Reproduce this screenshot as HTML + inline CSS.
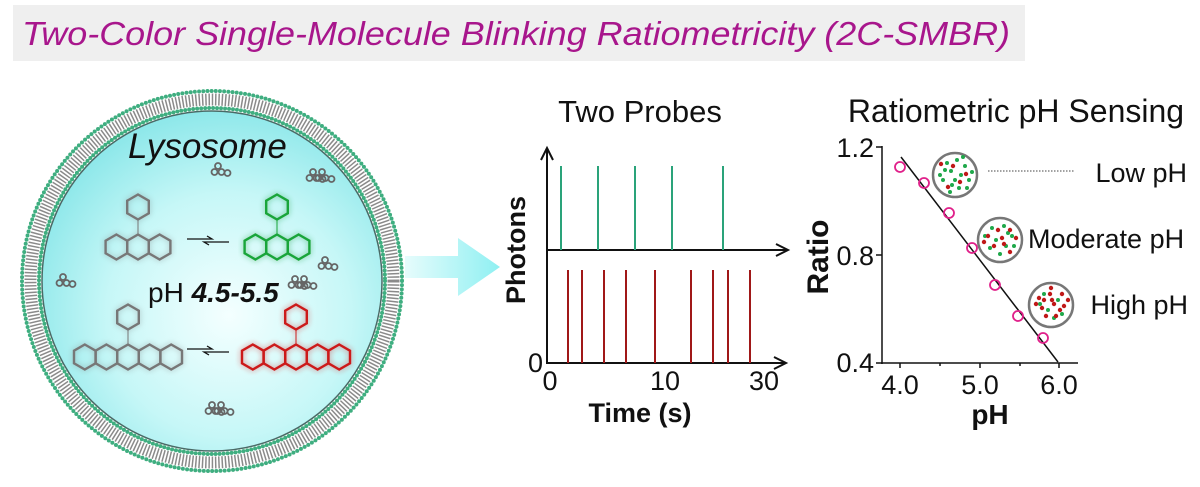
<!DOCTYPE html>
<html><head><meta charset="utf-8"><style>
html,body{margin:0;padding:0;background:#fff;}
svg{display:block;font-family:"Liberation Sans",sans-serif;}
</style></head><body>
<svg width="1200" height="487" viewBox="0 0 1200 487" xmlns="http://www.w3.org/2000/svg">
<defs>
<radialGradient id="cyt" cx="0.55" cy="0.6" r="0.6">
<stop offset="0" stop-color="#f4ffff"/><stop offset="0.6" stop-color="#c6f7f7"/><stop offset="1" stop-color="#8fe8ea"/>
</radialGradient>
<linearGradient id="arr" x1="0" x2="1">
<stop offset="0" stop-color="#e6fcfc"/><stop offset="1" stop-color="#8ff0f2"/>
</linearGradient>
<filter id="blur"><feGaussianBlur stdDeviation="3"/></filter>
<g id="hex"><polygon points="0,-12.5 10.8,-6.25 10.8,6.25 0,12.5 -10.8,6.25 -10.8,-6.25" fill="none" stroke-width="2.4"/></g>
<g id="mol3">
<use href="#hex" x="-21.6" y="0"/><use href="#hex" x="0" y="0"/><use href="#hex" x="21.6" y="0"/>
<line x1="0" y1="-12.5" x2="0" y2="-27.5"/><use href="#hex" x="0" y="-40"/>
</g>
<g id="mol5">
<use href="#hex" x="-43.2" y="0"/><use href="#hex" x="-21.6" y="0"/><use href="#hex" x="0" y="0"/><use href="#hex" x="21.6" y="0"/><use href="#hex" x="43.2" y="0"/>
<line x1="0" y1="-12.5" x2="0" y2="-27.5"/><use href="#hex" x="0" y="-40"/>
</g>
<g id="blob" fill="none" stroke="#666" stroke-width="1.8">
<circle cx="0" cy="-6" r="3"/><circle cx="-3.5" cy="0" r="3"/><circle cx="3.5" cy="0" r="3"/><circle cx="9.5" cy="1" r="3"/>
</g>
</defs>

<!-- title banner -->
<rect x="13" y="5" width="1012" height="56" fill="#efefef"/>
<text x="22" y="45" font-size="33" font-style="italic" fill="#a8168c" textLength="988" lengthAdjust="spacingAndGlyphs">Two-Color Single-Molecule Blinking Ratiometricity (2C-SMBR)</text>

<!-- lysosome -->
<circle cx="212" cy="281" r="190" fill="none" stroke="#3fae80" stroke-width="4" stroke-dasharray="0 4.2" stroke-linecap="round"/>
<circle cx="212" cy="281" r="181.5" fill="none" stroke="#8a8a8a" stroke-width="12" stroke-dasharray="1.5 1.8"/>
<circle cx="212" cy="281" r="173" fill="none" stroke="#3fae80" stroke-width="4" stroke-dasharray="0 4" stroke-linecap="round"/>
<circle cx="212" cy="281" r="170" fill="url(#cyt)" stroke="#4a6a66" stroke-width="1.5"/>
<text x="128" y="158" font-size="35" font-style="italic" fill="#111">Lysosome</text>

<g transform="translate(218,172)"><use href="#blob"/></g>
<g transform="translate(313,178)"><use href="#blob"/><use href="#blob" x="9"/></g>
<g transform="translate(325,266)"><use href="#blob"/></g>
<g transform="translate(295,285)"><use href="#blob"/><use href="#blob" x="9"/></g>
<g transform="translate(63,283)"><use href="#blob"/></g>
<g transform="translate(212,411)"><use href="#blob"/><use href="#blob" x="9"/></g>

<g stroke="#777" transform="translate(138,247)" filter="url(#blur)" opacity="0.5"><use href="#mol3"/></g>
<g stroke="#777" transform="translate(138,247)"><use href="#mol3"/></g>
<g stroke="#1a9a3a" transform="translate(277,247)" filter="url(#blur)" opacity="0.6"><use href="#mol3"/></g>
<g stroke="#19a53a" transform="translate(277,247)"><use href="#mol3"/></g>
<g stroke="#777" transform="translate(128,357)" filter="url(#blur)" opacity="0.5"><use href="#mol5"/></g>
<g stroke="#777" transform="translate(128,357)"><use href="#mol5"/></g>
<g stroke="#d02020" transform="translate(296,357)" filter="url(#blur)" opacity="0.6"><use href="#mol5"/></g>
<g stroke="#cc1a1a" transform="translate(296,357)"><use href="#mol5"/></g>

<g stroke="#111" stroke-width="1.3" fill="none">
<path d="M187,239 H212 l-5,-3"/><path d="M229,242 H204 l5,3"/>
<path d="M187,349 H212 l-5,-3"/><path d="M229,352 H204 l5,3"/>
</g>
<text x="148" y="302" font-size="28" fill="#111">pH <tspan font-weight="bold" font-style="italic">4.5-5.5</tspan></text>

<!-- big arrow -->
<polygon points="405,256 458,256 458,238 500,267 458,296 458,278 405,278" fill="url(#arr)"/>

<!-- Two probes chart -->
<text x="640" y="122" font-size="31" text-anchor="middle" fill="#111">Two Probes</text>
<g stroke="#111" stroke-width="2" fill="none">
<line x1="547" y1="148" x2="547" y2="364"/>
<path d="M541,160 L547,148 L553,160"/>
<line x1="546" y1="250" x2="788" y2="250"/>
<path d="M776,244 L788,250 L776,256"/>
<line x1="546" y1="363" x2="786" y2="363"/>
<path d="M774,357 L786,363 L774,369"/>
</g>
<g stroke="#2aa37a" stroke-width="2">
<line x1="561" y1="166" x2="561" y2="250"/><line x1="598" y1="166" x2="598" y2="250"/><line x1="635" y1="166" x2="635" y2="250"/><line x1="672" y1="166" x2="672" y2="250"/><line x1="723" y1="166" x2="723" y2="250"/>
</g>
<g stroke="#a01818" stroke-width="2">
<line x1="568" y1="270" x2="568" y2="363"/><line x1="582" y1="270" x2="582" y2="363"/><line x1="604" y1="270" x2="604" y2="363"/><line x1="626" y1="270" x2="626" y2="363"/><line x1="655" y1="270" x2="655" y2="363"/><line x1="691" y1="270" x2="691" y2="363"/><line x1="713" y1="270" x2="713" y2="363"/><line x1="728" y1="270" x2="728" y2="363"/><line x1="750" y1="270" x2="750" y2="363"/>
</g>
<g font-size="27" fill="#111">
<text x="528" y="372">0</text>
<text x="550" y="390" text-anchor="middle">0</text>
<text x="665" y="390" text-anchor="middle">10</text>
<text x="764" y="390" text-anchor="middle">30</text>
</g>
<text x="640" y="422" font-size="27" font-weight="bold" text-anchor="middle" fill="#111">Time (s)</text>
<text transform="translate(525,250) rotate(-90)" font-size="27" font-weight="bold" text-anchor="middle" fill="#111">Photons</text>

<!-- Ratiometric chart -->
<text x="1016" y="122" font-size="32" text-anchor="middle" fill="#111">Ratiometric pH Sensing</text>
<g stroke="#111" stroke-width="1.5" fill="none">
<line x1="882" y1="146" x2="882" y2="364"/>
<line x1="876" y1="147" x2="882" y2="147"/><line x1="876" y1="255" x2="882" y2="255"/><line x1="876" y1="363" x2="882" y2="363"/>
<line x1="881" y1="363" x2="1078" y2="363"/>
<line x1="900" y1="363" x2="900" y2="368"/><line x1="940" y1="363" x2="940" y2="366"/><line x1="980" y1="363" x2="980" y2="368"/><line x1="1020" y1="363" x2="1020" y2="366"/><line x1="1059" y1="363" x2="1059" y2="368"/>
<line x1="901" y1="157" x2="1058" y2="362"/>
</g>
<g font-size="27" fill="#111" text-anchor="end">
<text x="874" y="157">1.2</text><text x="874" y="265">0.8</text><text x="874" y="372">0.4</text>
</g>
<g font-size="27" fill="#111" text-anchor="middle">
<text x="900" y="394">4.0</text><text x="980" y="394">5.0</text><text x="1059" y="394">6.0</text>
</g>
<text x="990" y="424" font-size="28" font-weight="bold" text-anchor="middle" fill="#111">pH</text>
<text transform="translate(828,257) rotate(-90)" font-size="30" font-weight="bold" text-anchor="middle" fill="#111">Ratio</text>
<g fill="none" stroke="#e0208a" stroke-width="1.8">
<circle cx="900" cy="167" r="5"/><circle cx="924" cy="183" r="5"/><circle cx="949" cy="213" r="5"/><circle cx="972" cy="248" r="5"/><circle cx="995" cy="285" r="5"/><circle cx="1018" cy="316" r="5"/><circle cx="1043" cy="338" r="5"/>
</g>
<line x1="988" y1="171" x2="1075" y2="171" stroke="#444" stroke-width="1" stroke-dasharray="1.5 1.5"/>
<!-- bubbles -->
<g stroke="#777" stroke-width="2.5" fill="#fff">
<circle cx="955" cy="175" r="22"/>
<circle cx="1000" cy="240" r="22"/>
<circle cx="1051" cy="305" r="22"/>
</g>
<g fill="#1fa84a">
<circle cx="947" cy="163" r="2"/><circle cx="957" cy="160" r="2"/><circle cx="965" cy="166" r="2"/><circle cx="951" cy="171" r="2"/><circle cx="961" cy="175" r="2"/><circle cx="969" cy="180" r="2"/><circle cx="943" cy="180" r="2"/><circle cx="952" cy="185" r="2"/><circle cx="959" cy="188" r="2"/><circle cx="967" cy="188" r="2"/><circle cx="945" cy="170" r="2"/><circle cx="972" cy="172" r="2"/><circle cx="955" cy="180" r="2"/><circle cx="963" cy="157" r="2"/><circle cx="940" cy="175" r="2"/><circle cx="950" cy="192" r="2"/>
<circle cx="992" cy="228" r="2"/><circle cx="1004" cy="226" r="2"/><circle cx="1012" cy="236" r="2"/><circle cx="996" cy="240" r="2"/><circle cx="1006" cy="246" r="2"/><circle cx="990" cy="248" r="2"/><circle cx="1014" cy="246" r="2"/><circle cx="1000" cy="254" r="2"/><circle cx="985" cy="236" r="2"/><circle cx="1008" cy="233" r="2"/>
<circle cx="1044" cy="294" r="2"/><circle cx="1058" cy="300" r="2"/><circle cx="1048" cy="310" r="2"/><circle cx="1062" cy="314" r="2"/><circle cx="1054" cy="318" r="2"/><circle cx="1040" cy="304" r="2"/>
</g>
<g fill="#c01818">
<circle cx="941" cy="164" r="2.2"/><circle cx="953" cy="166" r="2.2"/><circle cx="966" cy="174" r="2.2"/><circle cx="948" cy="187" r="2.2"/><circle cx="960" cy="182" r="2.2"/>
<circle cx="988" cy="236" r="2.2"/><circle cx="998" cy="230" r="2.2"/><circle cx="1010" cy="230" r="2.2"/><circle cx="1002" cy="238" r="2.2"/><circle cx="994" cy="246" r="2.2"/><circle cx="1010" cy="252" r="2.2"/><circle cx="984" cy="242" r="2.2"/><circle cx="1016" cy="238" r="2.2"/><circle cx="1004" cy="244" r="2.2"/>
<circle cx="1039" cy="298" r="2.2"/><circle cx="1050" cy="294" r="2.2"/><circle cx="1062" cy="294" r="2.2"/><circle cx="1054" cy="304" r="2.2"/><circle cx="1042" cy="308" r="2.2"/><circle cx="1064" cy="306" r="2.2"/><circle cx="1046" cy="316" r="2.2"/><circle cx="1056" cy="316" r="2.2"/><circle cx="1036" cy="304" r="2.2"/><circle cx="1068" cy="300" r="2.2"/><circle cx="1051" cy="288" r="2.2"/><circle cx="1052" cy="300" r="2.2"/><circle cx="1060" cy="310" r="2.2"/><circle cx="1044" cy="300" r="2.2"/>
</g>
<g font-size="27" fill="#111">
<text x="1187" y="182" text-anchor="end">Low pH</text>
<text x="1028" y="248">Moderate pH</text>
<text x="1188" y="314" text-anchor="end">High pH</text>
</g>
</svg>
</body></html>
